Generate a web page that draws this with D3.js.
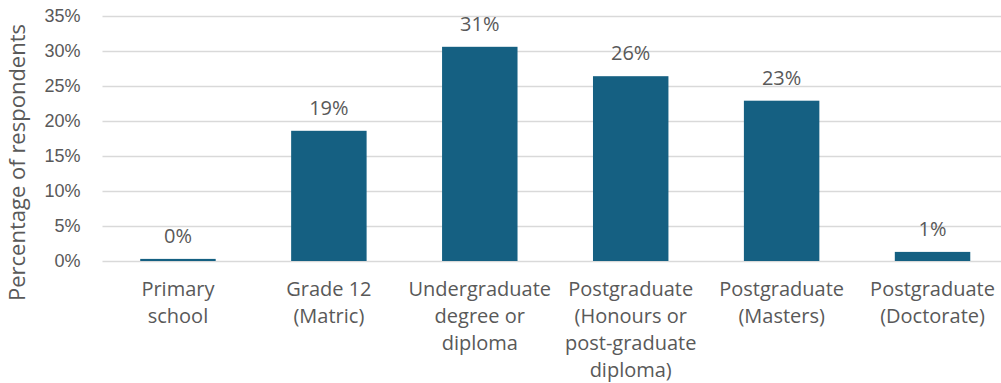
<!DOCTYPE html>
<html>
<head>
<meta charset="utf-8">
<script src="https://cdn.jsdelivr.net/npm/d3@7"></script>
<style>
  html, body { margin: 0; padding: 0; background: #fff; overflow: hidden; }
  svg { display: block; font-family: "Open Sans", "Liberation Sans", sans-serif; }
</style>
</head>
<body>
<svg id="chart" width="1001" height="383"></svg>
<script>
// Highest level of education completed by respondents
const categories = [
  ["Primary", "school"],
  ["Grade 12", "(Matric)"],
  ["Undergraduate", "degree or", "diploma"],
  ["Postgraduate", "(Honours or", "post-graduate", "diploma)"],
  ["Postgraduate", "(Masters)"],
  ["Postgraduate", "(Doctorate)"]
];
const shares = [0.003, 0.186, 0.306, 0.264, 0.229, 0.013];
const yTicks = [0, 0.05, 0.10, 0.15, 0.20, 0.25, 0.30, 0.35];
const yTitle = "Percentage of respondents";

const svg = d3.select("#chart");
const textColor = "#595959";
const barColor = "#156082";
const gridColor = "#d9d9d9";

const plot = { left: 102.5, right: 1008, top: 16, bottom: 261 };

const x = d3.scaleBand()
  .domain(d3.range(categories.length))
  .range([plot.left, plot.right])
  .paddingInner(0.5)
  .paddingOuter(0.25);

const y = d3.scaleLinear()
  .domain([0, 0.35])
  .range([plot.bottom, plot.top]);

const pct = d3.format(".0%");

// Horizontal gridlines and y-axis labels
const yAxis = d3.axisLeft(y)
  .tickValues(yTicks)
  .tickFormat(pct)
  .tickSize(-(plot.right - plot.left))
  .tickPadding(22);

const yg = svg.append("g")
  .attr("transform", `translate(${plot.left},0)`)
  .call(yAxis);
yg.select(".domain").remove();
yg.selectAll(".tick line").attr("stroke", gridColor).attr("stroke-width", 1.5);
yg.selectAll(".tick text")
  .attr("fill", textColor)
  .style("font-size", "18px");

// Bars
svg.append("g").selectAll("rect")
  .data(shares)
  .join("rect")
  .attr("x", (d, i) => x(i))
  .attr("width", x.bandwidth())
  .attr("y", d => y(d))
  .attr("height", d => y(0) - y(d))
  .attr("fill", barColor);

// Value labels above the bars
svg.append("g").selectAll("text")
  .data(shares)
  .join("text")
  .attr("x", (d, i) => x(i) + x.bandwidth() / 2)
  .attr("y", d => y(d) - 16)
  .attr("text-anchor", "middle")
  .attr("fill", textColor)
  .style("font-size", "20px")
  .text(d => pct(d));

// Category labels, wrapped onto several lines
const cat = svg.append("g").selectAll("text")
  .data(categories)
  .join("text")
  .attr("x", (d, i) => x(i) + x.bandwidth() / 2)
  .attr("y", 296)
  .attr("text-anchor", "middle")
  .attr("fill", textColor)
  .style("font-size", "20px");
cat.selectAll("tspan")
  .data(d => d)
  .join("tspan")
  .attr("x", function () { return d3.select(this.parentNode).attr("x"); })
  .attr("dy", (d, i) => i === 0 ? 0 : 27)
  .text(d => d);

// Y-axis title
svg.append("text")
  .attr("transform", `translate(25,${(plot.top + 309) / 2}) rotate(-90)`)
  .attr("text-anchor", "middle")
  .attr("fill", textColor)
  .style("font-size", "22px")
  .text(yTitle);
</script>
</body>
</html>
